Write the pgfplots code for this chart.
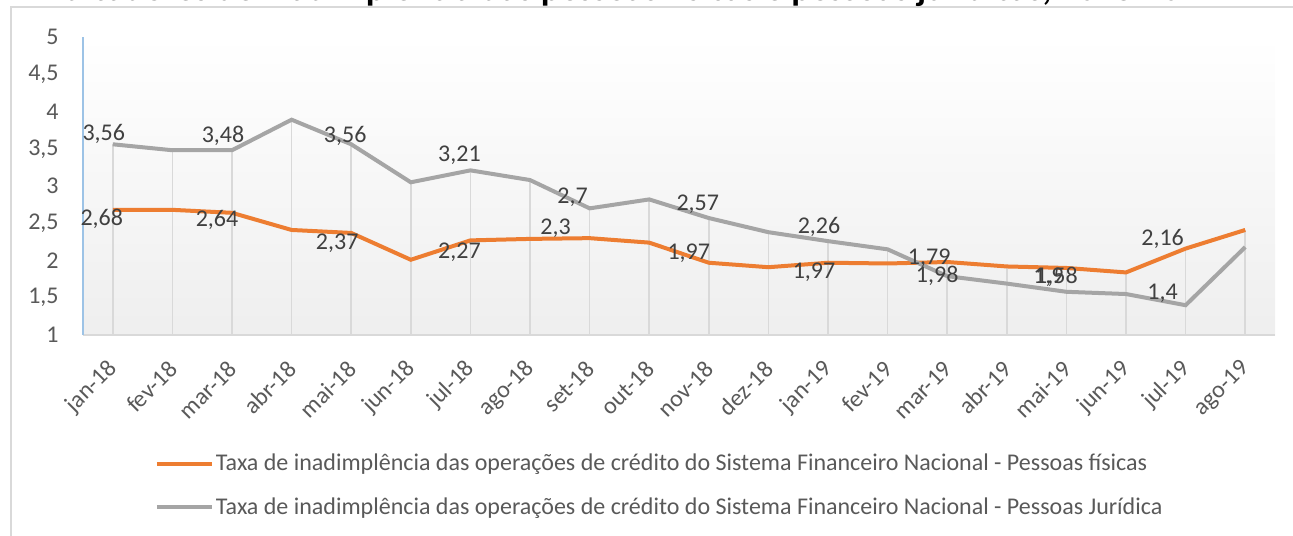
\documentclass[border=0pt]{standalone}
\usepackage{pgfplots}
\pgfplotsset{compat=1.18}
\usepackage{pgfplotstable}
\usepackage{fontspec}
\setmainfont{Carlito}

\definecolor{pforange}{HTML}{ED7D31}
\definecolor{pjgray}{HTML}{A5A5A5}
\definecolor{gridgray}{HTML}{D9D9D9}
\definecolor{txtgray}{HTML}{595959}
\definecolor{lblgray}{HTML}{404040}
\definecolor{axblue}{HTML}{9DC3E6}

% x: 0 = jan-18 ... 19 = ago-19
\pgfplotstableread{
x pf pj
0 2.68 3.56
1 2.68 3.48
2 2.64 3.48
3 2.41 3.89
4 2.37 3.56
5 2.01 3.05
6 2.27 3.21
7 2.29 3.08
8 2.30 2.70
9 2.24 2.82
10 1.97 2.57
11 1.91 2.38
12 1.97 2.26
13 1.96 2.15
14 1.98 1.79
15 1.92 1.69
16 1.90 1.58
17 1.84 1.55
18 2.16 1.40
19 2.41 2.18
}\datatable

% data labels (offsets in pt)
\pgfplotstableread{
x y lab dx dy
0 2.68 2,68 -5.5 -4.5
2 2.64 2,64 -7.5 -3.5
4 2.37 2,37 -7 -5
6 2.27 2,27 -5.5 -6
8 2.30 2,3 -17 5
10 1.97 1,97 -10 4.8
12 1.97 1,97 -7 -5
14 1.98 1,98 -5 -7
16 1.90 1,9 -9 -4.5
18 2.16 2,16 -11.5 5
}\pflabels

\pgfplotstableread{
x y lab dx dy
0 3.56 3,56 -4.5 5
2 3.48 3,48 -4.5 7
4 3.56 3,56 -3 4
6 3.21 3,21 -5.5 7.5
8 2.70 2,7 -8.5 5.5
10 2.57 2,57 -5.5 7
12 2.26 2,26 -4.5 7
14 1.79 1,79 -9 9
16 1.58 1,58 -5 7.3
18 1.40 1,4 -11.5 6
}\pjlabels

\pgfplotsset{
  lbls/.style={draw=none, mark=none, forget plot,
    nodes near coords, point meta=explicit symbolic,
    visualization depends on={\thisrow{dx}\as\ldx},
    visualization depends on={\thisrow{dy}\as\ldy},
    nodes near coords style={anchor=center, inner sep=0pt,
      xshift=\ldx pt, yshift=\ldy pt, text=lblgray,
      font=\fontsize{12}{14}\selectfont}},
}

\begin{document}
\begin{tikzpicture}
\useasboundingbox (0,0) rectangle (646.5pt,-267.5pt);
% outer chart frame (cut off at right and bottom)
\draw[gridgray, line width=0.75pt] (5.5pt,-300pt) -- (5.5pt,-3.5pt) -- (700pt,-3.5pt);
% title, mostly outside the page
\node[anchor=base, font=\bfseries\fontsize{18}{20}\selectfont] at (313pt,-0.3pt)
  {Indicadores de inadimplência das pessoas físicas e pessoas jurídicas, 2018-2019};

\begin{axis}[
  at={(41.5pt,-167.5pt)}, anchor=south west,
  width=596pt, height=149pt, scale only axis,
  xmin=-0.5, xmax=19.5, ymin=1, ymax=5,
  ytick={1,1.5,...,5},
  xtick={0,...,19},
  xticklabels={jan-18,fev-18,mar-18,abr-18,mai-18,jun-18,jul-18,ago-18,set-18,out-18,
    nov-18,dez-18,jan-19,fev-19,mar-19,abr-19,mai-19,jun-19,jul-19,ago-19},
  /pgf/number format/use comma,
  /pgf/number format/assume math mode=true,
  major tick length=0pt,
  axis lines*=left,
  x axis line style={gridgray, line width=0.75pt},
  y axis line style={axblue, line width=0.6pt},
  tick label style={text=txtgray, font=\fontsize{12}{14}\selectfont},
  yticklabel style={anchor=east, inner sep=0pt, xshift=-12pt},
  xticklabel style={yshift=-15pt, xshift=0.5pt, rotate=45, anchor=east, inner sep=0pt},
  axis background/.style={top color=white, bottom color=gray!13},
  legend style={draw=none, fill=none, inner sep=0pt, row sep=10pt,
    at={(axis description cs:0.06,-0.505)}, anchor=west,
    font=\fontsize{12}{14}\selectfont, text=txtgray,
    /tikz/every odd column/.append style={column sep=0pt}},
  legend cell align=left,
  legend image code/.code={\draw[#1, line width=2pt] (0pt,0pt) -- (27.5pt,0pt);},
  legend style={nodes={inner sep=1pt}},
]
% drop lines
\addplot[ycomb, gridgray, line width=0.75pt, forget plot, mark=none] table[x=x, y=pj] {\datatable};
\addplot[ycomb, gridgray, line width=0.75pt, forget plot, mark=none] table[x=x, y=pf] {\datatable};

\addplot[pforange, line width=2pt, mark=none] table[x=x, y=pf] {\datatable};
\addlegendentry{Taxa de inadimplência das operações de crédito do Sistema Financeiro Nacional - Pessoas físicas}
\addplot[pjgray, line width=2pt, mark=none] table[x=x, y=pj] {\datatable};
\addlegendentry{Taxa de inadimplência das operações de crédito do Sistema Financeiro Nacional - Pessoas Jurídica}

\addplot[lbls] table[x=x, y=y, meta=lab] {\pflabels};
\addplot[lbls] table[x=x, y=y, meta=lab] {\pjlabels};
\end{axis}
\end{tikzpicture}
\end{document}
